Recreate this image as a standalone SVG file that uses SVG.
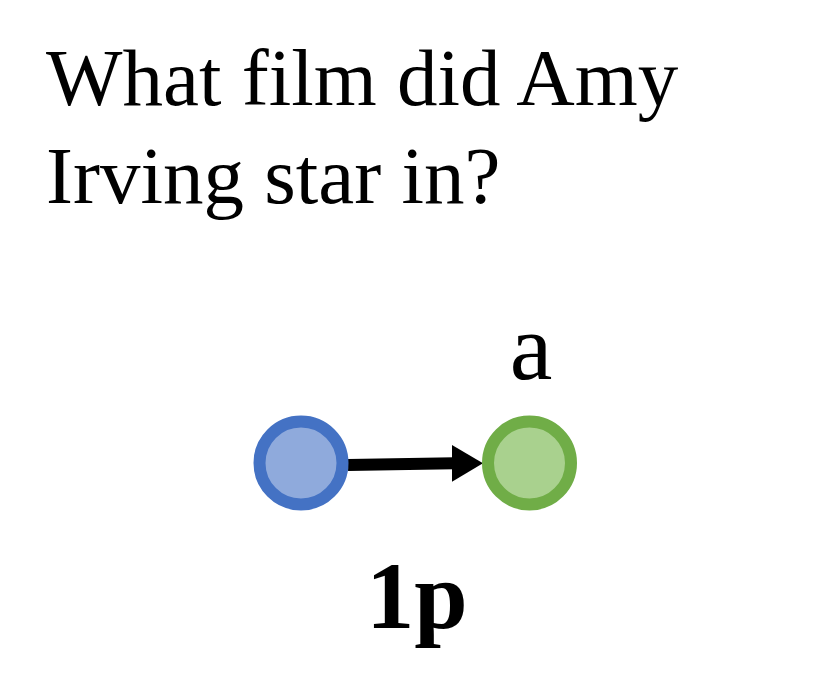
<svg xmlns="http://www.w3.org/2000/svg" width="831" height="692" viewBox="0 0 831 692">
<style>
.t{font-family:"Liberation Serif","Times New Roman",serif;fill:#000}
.node{stroke-width:12}
</style>
<rect width="831" height="692" fill="#fff"/>
<text class="t" font-size="81"><tspan x="46" y="105">What film did Amy</tspan><tspan x="46" y="203">Irving star in?</tspan></text>
<g id="connectors">
<line x1="348" y1="465" x2="454" y2="463.3" stroke="#000" stroke-width="12"/>
<polygon points="452,445 483,463.3 452,481.7" fill="#000"/>
</g>
<g id="node-start">
<circle class="node" cx="301" cy="463" r="41.5" fill="#8FAADC" stroke="#4472C4"/>
</g>
<g id="node-a">
<circle class="node" cx="529.5" cy="463" r="41.5" fill="#A9D18E" stroke="#70AD47"/>
<text class="t" x="531" y="379" font-size="96" text-anchor="middle">a</text>
</g>
<text class="t" x="417" y="628" font-size="96" font-weight="bold" text-anchor="middle">1p</text>
</svg>
